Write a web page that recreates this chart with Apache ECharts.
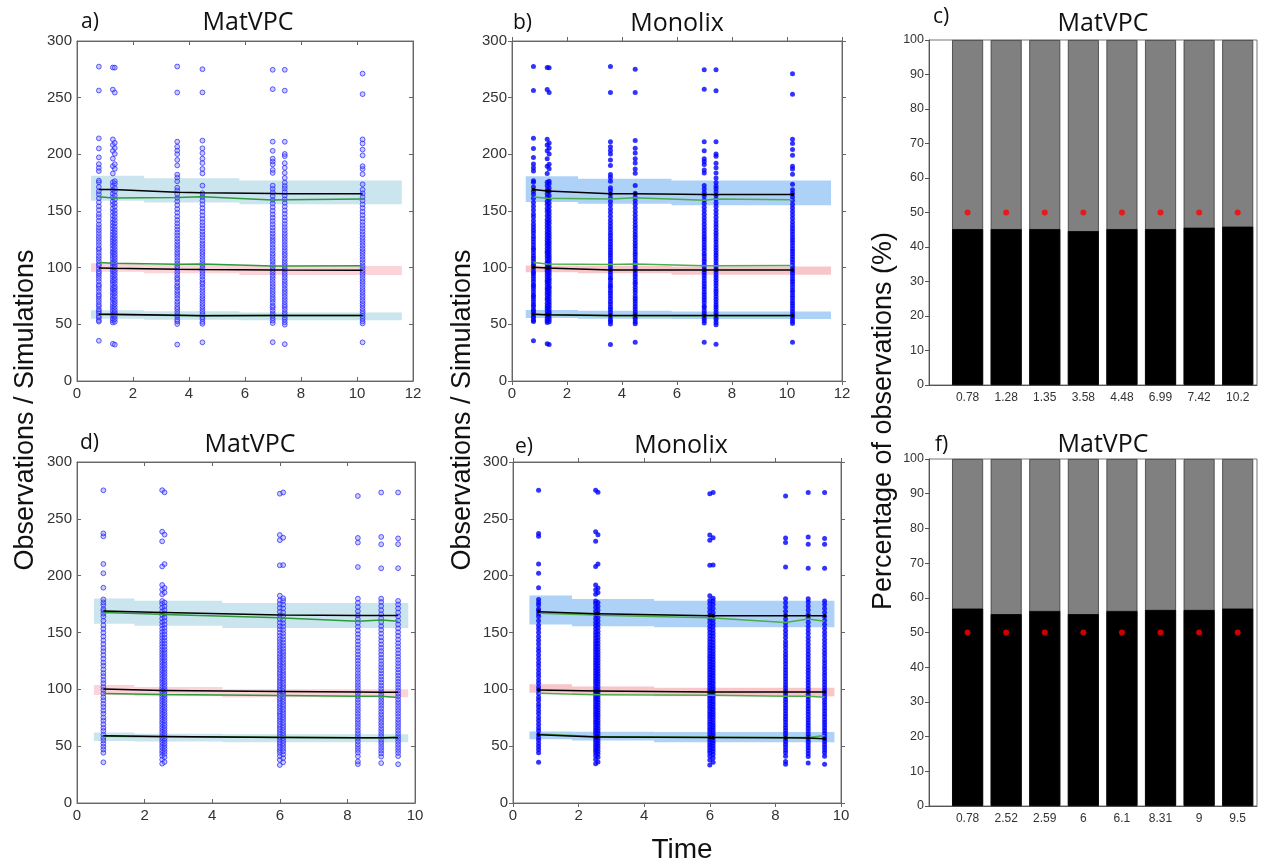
<!DOCTYPE html>
<html><head><meta charset="utf-8">
<script src="https://cdn.jsdelivr.net/npm/echarts@6/dist/echarts.min.js"></script>
<style>html,body{margin:0;padding:0;background:#fff}#c{width:1270px;height:863px}</style>
</head><body><div id="c"></div>
<script>
// ---------- Data set 1 (panels a, b, c) ----------
const timesA = [0.78, 1.28, 1.35, 3.58, 4.48, 6.99, 7.42, 10.2];
const obsA1 = [35.5,52.4,53.6,55.9,57.2,59.8,61.5,63.1,65.7,67.4,69.9,72.3,74.6,76.2,78.8,81.4,83.7,85.1,87.9,90.3,92.6,94.8,96.5,99.1,101.7,103.2,105.9,108.4,110.6,113.2,115.8,117.3,120.1,122.7,125.4,127.8,130.5,133.1,135.6,138.2,141.4,144.7,147.3,150.9,154.2,157.6,161.3,164.8,167.5,171.2,175.3,176.8,185.2,188.1,191.4,197.3,205.2,214.1,256.3,277.4];
const obsA2 = [32.8,51.6,53.4,55.2,57.8,59.3,61.9,64.2,66.1,68.7,71.5,73.2,75.9,78.1,80.6,82.3,84.9,87.4,89.2,91.8,94.1,96.7,98.4,100.9,103.5,105.1,107.8,110.2,112.7,114.4,116.9,119.5,121.8,124.3,126.6,129.2,131.7,134.5,137.1,139.8,142.6,145.9,149.3,152.1,155.7,158.4,162.1,165.3,168.6,172.2,175.4,183.1,189.5,196.2,203.1,208.3,213.2,257.1,276.6];
const obsA3 = [32.1,52.2,54.5,56.8,58.9,60.7,62.8,65.3,67.6,69.8,72.1,74.7,77.2,79.4,81.8,83.5,86.2,88.6,90.7,93.3,95.5,97.8,100.2,102.4,104.6,106.9,109.3,111.5,113.8,116.2,118.6,121.1,123.4,125.9,128.3,130.8,133.4,136.2,139.1,141.9,144.8,147.6,150.5,153.8,156.9,160.2,163.7,167.1,170.4,174.1,176.3,187.2,191.3,200.4,205.6,210.1,254.5,276.5];
const obsA4 = [32.2,50.3,52.6,54.1,56.7,58.3,60.9,63.4,65.2,67.9,70.1,72.8,75.3,77.6,79.9,82.4,84.2,86.8,89.5,91.1,93.7,96.2,98.9,101.3,103.6,106.1,108.7,111.2,113.4,115.9,118.3,120.6,123.2,125.7,128.4,130.9,133.6,136.3,139.2,142.1,145.3,148.6,151.8,155.2,158.5,161.6,164.9,168.1,170.6,176.2,179.5,182.1,190.2,195.1,200.2,203.3,206.7,211.2,254.6,277.5];
const obsA5 = [34.1,50.5,52.2,54.7,56.3,58.9,61.2,63.6,65.8,68.1,70.6,72.9,75.1,77.8,80.2,82.7,85.3,87.1,89.6,92.2,94.5,97.1,99.6,102.2,104.3,106.8,109.5,111.9,114.1,116.6,119.2,121.5,124.1,126.9,129.3,131.9,134.7,137.4,140.2,143.1,146.2,149.4,152.6,155.9,159.1,162.4,165.7,172.4,183.2,187.1,192.3,196.2,201.1,205.3,212.1,254.6,275.1];
const obsA6 = [34.2,51.1,53.3,55.4,57.6,59.7,62.3,64.8,66.5,69.2,71.7,73.9,76.4,78.6,81.1,83.4,85.8,88.3,90.9,93.2,95.7,97.9,100.5,102.8,105.4,107.6,110.3,112.6,115.3,117.7,120.3,122.9,125.2,127.6,130.2,132.8,135.5,138.3,141.2,144.1,147.1,150.2,153.4,156.6,159.8,163.2,166.4,169.5,172.4,183.6,186.2,191.1,193.7,196.2,203.1,211.2,257.5,274.6];
const obsA7 = [32.5,49.7,51.9,54.2,56.1,58.5,60.6,63.1,65.4,67.3,69.7,72.2,74.5,76.9,79.3,81.5,84.1,86.4,88.8,91.3,93.6,96.1,98.6,101.1,103.3,105.8,108.2,110.7,112.9,115.4,117.9,120.2,122.8,125.3,127.9,130.4,133.1,135.8,138.6,141.5,144.4,147.5,150.6,153.9,157.1,160.4,163.6,166.9,169.8,172.1,175.1,179.2,183.6,188.1,192.2,198.4,200.3,211.1,256.2,274.6];
const obsA8 = [34.1,50.8,52.7,54.9,57.1,59.4,61.6,63.9,66.3,68.5,70.9,73.4,75.7,78.2,80.4,82.9,85.5,87.7,90.1,92.7,95.1,97.3,99.8,102.1,104.7,107.2,109.6,112.1,114.5,116.8,119.4,121.9,124.4,126.8,129.5,132.1,134.8,137.5,140.4,143.3,146.4,149.5,152.7,155.8,159.2,162.3,165.6,168.8,173.6,182.5,187.1,189.5,199.1,204.2,209.6,213.2,253.1,271.2];

// prediction-interval bands, panel a
const bandXA     = [0.5, 2.4, 2.4, 5.8, 5.8, 11.6];
const upHiA      = [181, 181, 179, 179, 177, 177];
const upLoA      = [159, 159, 157.5, 157.5, 156, 156];
const medHiA     = [104, 104, 102.5, 102.5, 101.5, 101.5];
const medLoA     = [96.5, 96.5, 95, 95, 93.5, 93.5];
const lowHiA     = [62.5, 62.5, 61.5, 61.5, 60.5, 60.5];
const lowLoA     = [55, 55, 54, 54, 53.5, 53.5];
// percentile lines, panel a
const blackUpA   = [169, 169, 169, 166.5, 166, 165.5, 165.2, 165.2];
const greenUpA   = [162.5, 161.5, 161.8, 162, 162.5, 159.8, 160, 160.5];
const blackMedA  = [99.8, 99.5, 99.3, 98.5, 98.3, 98, 97.9, 97.8];
const greenMedA  = [104.5, 104, 103.8, 103, 103.2, 101.5, 101.5, 101.8];
const blackLoA   = [59, 59, 58.8, 58, 57.5, 57.8, 57.8, 57.8];
const greenLoA   = [58.7, 58.5, 58.5, 57.8, 57.8, 57.8, 57.9, 57.8];

// bands & lines, panel b
const bandXB     = [0.5, 2.4, 2.4, 5.8, 5.8, 11.6];
const upHiB      = [180.7, 180.7, 178.5, 178.5, 177, 177];
const upLoB      = [158, 158, 156.5, 156.5, 155, 155];
const medHiB     = [102, 102, 101.5, 101.5, 101, 101];
const medLoB     = [96, 96, 95, 95, 93.8, 93.8];
const lowHiB     = [62.6, 62.6, 62, 62, 61.4, 61.4];
const lowLoB     = [55.5, 55.5, 55, 55, 54.6, 54.6];
const blackUpB   = [168.9, 167.7, 167.6, 165.3, 165.2, 164.5, 164.5, 164.5];
const greenUpB   = [162.4, 161.2, 161.3, 160.6, 161.8, 159.4, 160.6, 160];
const blackMedB  = [100.4, 99.8, 99.7, 98, 98, 98, 98, 98];
const greenMedB  = [104.5, 103.3, 103.2, 102.7, 103.3, 101.6, 101.6, 102];
const blackLoB   = [59, 58.5, 58.5, 57.9, 57.9, 57.9, 57.9, 57.9];
const greenLoB   = [58.8, 58.2, 58.2, 57.6, 57.6, 57.5, 57.6, 57.6];

// panel c
const barLabelsC = ['0.78','1.28','1.35','3.58','4.48','6.99','7.42','10.2'];
const belowC     = [45.2, 45.2, 45.2, 44.6, 45.2, 45.2, 45.6, 45.9];
const totalC     = [100, 100, 100, 100, 100, 100, 100, 100];
const expectedC  = [50, 50, 50, 50, 50, 50, 50, 50];

// ---------- Data set 2 (panels d, e, f) ----------
const timesD = [0.78, 2.52, 2.59, 6, 6.1, 8.31, 9, 9.5];
const obsD1 = [35.8,44.2,47.1,49.6,52.3,55.1,57.4,60.2,63.5,66.1,69.3,72.4,75.2,78.6,81.3,84.5,87.2,90.4,93.1,96.3,99.5,102.1,105.4,108.2,111.6,114.3,117.5,120.8,123.6,126.9,130.2,133.5,136.4,139.8,143.1,146.5,149.9,153.2,156.4,160.3,164.1,166.6,169.1,170.7,174.2,176.5,179.1,189.4,202.1,210.3,234.6,237.2,275.1];
const obsD2 = [34.6,38.2,41.6,44.1,46.3,48.7,50.9,53.2,55.4,57.6,59.8,62.1,64.3,66.5,68.8,71.1,73.3,75.6,77.9,80.1,82.4,84.6,86.9,89.2,91.4,93.7,95.9,98.2,100.4,102.7,105.1,107.3,109.6,111.9,114.2,116.5,118.7,121.1,123.4,125.7,128.1,130.4,132.8,135.2,137.6,140.1,142.6,145.2,147.8,150.5,153.3,156.2,159.1,162.2,165.4,168.6,171.9,175.3,177.7,183.6,187.7,191.8,208.1,230.2,238.7,275.2];
const obsD3 = [36.1,40.3,43.2,45.6,47.9,50.1,52.4,54.6,56.8,59.1,61.3,63.6,65.8,68.1,70.3,72.6,74.9,77.2,79.4,81.7,84.1,86.3,88.6,90.9,93.2,95.4,97.7,99.9,102.3,104.6,106.8,109.1,111.5,113.8,116.1,118.4,120.8,123.1,125.5,127.9,130.3,132.7,135.1,137.6,140.3,142.9,145.6,148.4,151.2,154.1,157.1,160.2,163.3,166.5,169.8,173.1,176.4,185.1,189.2,210.2,236.1,273.3];
const obsD4 = [33.4,37.9,41.3,44.2,46.5,48.8,51.1,53.3,55.6,57.9,60.1,62.4,64.7,66.9,69.2,71.5,73.8,76.1,78.3,80.6,82.9,85.2,87.5,89.8,92.1,94.3,96.6,98.9,101.2,103.5,105.8,108.1,110.4,112.7,115.1,117.4,119.7,122.1,124.4,126.8,129.2,131.6,134.1,136.5,139.1,141.7,144.3,147.1,149.9,152.8,155.6,158.7,161.8,165.1,168.3,171.6,175.1,178.2,182.4,209.1,231.2,235.8,272.1];
const obsD5 = [35.8,39.6,42.7,45.4,47.7,50.2,52.5,54.8,57.1,59.4,61.6,63.9,66.2,68.4,70.7,73.1,75.4,77.6,79.9,82.2,84.5,86.8,89.1,91.4,93.6,95.9,98.2,100.5,102.8,105.1,107.4,109.7,112.1,114.4,116.7,119.1,121.4,123.8,126.2,128.6,131.1,133.5,136.1,138.6,141.2,143.9,146.6,149.4,152.3,155.2,158.2,161.3,164.5,167.7,171.2,174.6,177.8,180.1,209.3,233.4,273.2];
const obsD6 = [34.2,36.5,41.1,44.3,46.7,49.2,51.6,54.1,56.5,58.9,61.4,63.8,66.3,68.7,71.2,73.6,76.1,78.5,81.1,83.5,86.1,88.6,91.1,93.6,96.2,98.7,101.3,103.8,106.4,109.1,111.7,114.3,117.1,119.7,122.4,125.2,127.9,130.7,133.6,136.5,139.4,142.4,145.5,148.6,151.8,155.1,158.4,161.8,165.2,168.8,172.4,176.1,179.8,207.6,229.1,233.2,270.1];
const obsD7 = [35.1,40.8,43.6,46.1,48.5,51.1,53.5,55.9,58.4,60.8,63.3,65.7,68.2,70.6,73.1,75.5,78.1,80.5,83.1,85.6,88.1,90.6,93.2,95.7,98.3,100.8,103.4,106.1,108.7,111.3,114.1,116.8,119.5,122.2,125.1,127.9,130.8,133.7,136.6,139.6,142.7,145.8,149.1,152.3,155.6,159.1,162.5,166.1,169.7,173.3,176.9,179.8,206.5,227.6,234.1,273.2];
const obsD8 = [34.1,41.2,44.1,46.6,49.1,51.5,53.9,56.4,58.8,61.3,63.7,66.2,68.6,71.1,73.5,76.1,78.6,81.1,83.6,86.2,88.7,91.2,93.8,96.3,98.9,101.5,104.1,106.7,109.4,112.1,114.8,117.6,120.3,123.1,125.9,128.8,131.7,134.7,137.7,140.7,143.8,147.1,150.3,153.6,157.1,160.5,164.1,167.6,171.2,174.7,177.8,206.6,227.7,232.8,273.2];

// bands & lines, panel d
const bandXD     = [0.5, 1.7, 1.7, 4.3, 4.3, 9.8];
const upHiD      = [180, 180, 178, 178, 176, 176];
const upLoD      = [157.8, 157.8, 156, 156, 154, 154];
const medHiD     = [103.8, 103.8, 102, 102, 100, 100];
const medLoD     = [95, 95, 94, 94, 93, 93];
const lowHiD     = [62, 62, 61, 61, 60.4, 60.4];
const lowLoD     = [54.5, 54.5, 54, 54, 53.4, 53.4];
const blackUpD   = [169, 167.5, 167.5, 165.5, 165.3, 165, 165, 165];
const greenUpD   = [167.5, 166, 165.8, 163, 162.8, 160, 161, 160];
const blackMedD  = [100.3, 99, 99, 98, 98, 97.6, 97.5, 97.5];
const greenMedD  = [96.3, 95.5, 95.4, 94.5, 94.5, 94, 94, 92.8];
const blackLoD   = [59.2, 58.5, 58.5, 57.6, 57.6, 57.3, 57.3, 57.3];
const greenLoD   = [58.8, 58.2, 58.2, 57.8, 57.8, 57.3, 57.5, 58];

// bands & lines, panel e
const bandXE     = [0.5, 1.8, 1.8, 4.3, 4.3, 9.8];
const upHiE      = [182.5, 182.5, 179.5, 179.5, 178, 178];
const upLoE      = [157, 157, 155.5, 155.5, 154.7, 154.7];
const medHiE     = [104.4, 104.4, 102.5, 102.5, 101.5, 101.5];
const medLoE     = [97, 97, 95.5, 95.5, 94, 94];
const lowHiE     = [63, 63, 62.7, 62.7, 62.4, 62.4];
const lowLoE     = [56, 56, 55, 55, 53.5, 53.5];
const blackUpE   = [168.2, 166.5, 166.5, 164.7, 164.7, 164.7, 164.7, 164.7];
const greenUpE   = [167, 165.3, 165.2, 163, 162.8, 158.8, 161.8, 160];
const blackMedE  = [99.4, 98.5, 98.5, 97.6, 97.6, 97.6, 97.6, 97.6];
const greenMedE  = [96.5, 95.3, 95.3, 94.7, 94.7, 94, 94, 93];
const blackLoE   = [60, 58, 58, 57.6, 57.6, 57.3, 57.2, 56.5];
const greenLoE   = [60.6, 58.5, 58.4, 57.9, 57.9, 57.7, 57.6, 59.4];

// panel f
const barLabelsF = ['0.78','2.52','2.59','6','6.1','8.31','9','9.5'];
const belowF     = [56.9, 55.3, 56.2, 55.3, 56.2, 56.5, 56.5, 56.9];
const totalF     = [100, 100, 100, 100, 100, 100, 100, 100];
const expectedF  = [50, 50, 50, 50, 50, 50, 50, 50];

// ---------- helpers ----------
const NUMFONT = '"Liberation Sans", Arial, sans-serif';
function obsPoints(times, cols) {
  const out = [];
  times.forEach((t, i) => cols[i].forEach(v => out.push([t, v])));
  return out;
}
function zip(xs, ys) { return xs.map((x, i) => [x, ys[i]]); }
function band(axisIdx, xs, lo, hi, color) {
  return {
    type: 'custom', xAxisIndex: axisIdx, yAxisIndex: axisIdx, z: 1, silent: true,
    clip: true,
    data: [[xs[0], lo[0]]],
    renderItem: (params, api) => {
      const pts = [];
      for (let i = 0; i < xs.length; i++) pts.push(api.coord([xs[i], hi[i]]));
      for (let i = xs.length - 1; i >= 0; i--) pts.push(api.coord([xs[i], lo[i]]));
      return { type: 'polygon', shape: { points: pts }, style: { fill: color } };
    }
  };
}
function line(axisIdx, xs, ys, color, withMarks) {
  return {
    type: 'line', xAxisIndex: axisIdx, yAxisIndex: axisIdx, z: 4, silent: true,
    data: zip(xs, ys),
    symbol: withMarks ? 'circle' : 'none', symbolSize: 3.5, showSymbol: !!withMarks,
    itemStyle: { color: color },
    lineStyle: { color: color, width: 1.5 }
  };
}
function scatter(axisIdx, pts, hollow) {
  return {
    type: 'scatter', xAxisIndex: axisIdx, yAxisIndex: axisIdx, z: 2, silent: true,
    data: pts, symbol: 'circle', symbolSize: hollow ? 4.8 : 5,
    itemStyle: hollow
      ? { color: 'rgba(110,110,255,0.45)', borderColor: 'rgba(35,35,255,0.9)', borderWidth: 1 }
      : { color: '#0000ff' }
  };
}

const grids = [
  { left: 77,  top: 41,  width: 336, height: 340 },  // a
  { left: 512, top: 41,  width: 330, height: 340 },  // b
  { left: 929, top: 40,  width: 328, height: 345 },  // c
  { left: 77,  top: 462, width: 338, height: 341 },  // d
  { left: 513, top: 462, width: 328, height: 341 },  // e
  { left: 929, top: 459, width: 328, height: 347 }   // f
].map(g => Object.assign({ show: true, borderColor: '#777', borderWidth: 1, backgroundColor: '#fff' }, g));

function sAxisX(gi, max, inside, pos) {
  const main = pos === 'bottom';
  return {
    type: 'value', gridIndex: gi, position: pos, min: 0, max: max, interval: 2,
    axisLine: { show: true, onZero: false, lineStyle: { color: '#666', width: 1 } },
    axisTick: { show: true, inside: inside, length: 4, lineStyle: { color: '#666' } },
    axisLabel: { show: main, color: '#333', fontSize: 15, fontFamily: NUMFONT, margin: 5 },
    splitLine: { show: false }
  };
}
function sAxisY(gi, inside, pos) {
  const main = pos === 'left';
  return {
    type: 'value', gridIndex: gi, position: pos, min: 0, max: 300, interval: 50,
    axisLine: { show: true, onZero: false, lineStyle: { color: '#666', width: 1 } },
    axisTick: { show: true, inside: inside, length: 4, lineStyle: { color: '#666' } },
    axisLabel: { show: main, color: '#333', fontSize: 15, fontFamily: NUMFONT, margin: 5 },
    splitLine: { show: false }
  };
}
function bAxisX(gi, labels) {
  return {
    type: 'value', gridIndex: gi, min: 0, max: 8.5, interval: 1,
    axisLine: { show: true, onZero: false, lineStyle: { color: '#555' } },
    axisTick: { show: false },
    axisLabel: {
      color: '#333', fontSize: 12, fontFamily: NUMFONT, margin: 7, showMaxLabel: false,
      formatter: v => (Number.isInteger(v) && v >= 1 && v <= labels.length) ? labels[v - 1] : ''
    },
    splitLine: { show: false }
  };
}
function bAxisY(gi) {
  return {
    type: 'value', gridIndex: gi, min: 0, max: 100, interval: 10,
    axisLine: { show: true, onZero: false, lineStyle: { color: '#555' } },
    axisTick: { show: true, inside: false, length: 4, lineStyle: { color: '#555' } },
    axisLabel: { color: '#333', fontSize: 12.5, fontFamily: NUMFONT, margin: 5 },
    splitLine: { show: false }
  };
}

const xAxes = [
  sAxisX(0, 12, true, 'bottom'), sAxisX(1, 12, false, 'bottom'), bAxisX(2, barLabelsC),
  sAxisX(3, 10, true, 'bottom'), sAxisX(4, 10, false, 'bottom'), bAxisX(5, barLabelsF),
  sAxisX(0, 12, true, 'top'), sAxisX(1, 12, false, 'top'), sAxisX(3, 10, true, 'top'), sAxisX(4, 10, false, 'top')
];
const yAxes = [
  sAxisY(0, true, 'left'), sAxisY(1, false, 'left'), bAxisY(2),
  sAxisY(3, true, 'left'), sAxisY(4, false, 'left'), bAxisY(5),
  sAxisY(0, true, 'right'), sAxisY(1, false, 'right'), sAxisY(3, true, 'right'), sAxisY(4, false, 'right')
];

const obsA = obsPoints(timesA, [obsA1, obsA2, obsA3, obsA4, obsA5, obsA6, obsA7, obsA8]);
const obsD = obsPoints(timesD, [obsD1, obsD2, obsD3, obsD4, obsD5, obsD6, obsD7, obsD8]);

const lightBlue = '#cae5ee', lightPink = '#fbd3d8';
const midBlue = '#aed2f7', midPink = '#f8c6c9';
const green1 = '#2f9a3c', green2 = '#4cad4f';

function barSeries(gi, below, total, expected) {
  const pos = below.map((v, i) => i + 1);
  return [
    { type: 'bar', xAxisIndex: gi, yAxisIndex: gi, silent: true, barWidth: 31, barGap: '-100%', z: 2,
      data: zip(pos, total), itemStyle: { color: '#808080', borderColor: '#3a3a3a', borderWidth: 0.8 } },
    { type: 'bar', xAxisIndex: gi, yAxisIndex: gi, silent: true, barWidth: 31, barGap: '-100%', z: 3,
      data: zip(pos, below), itemStyle: { color: '#000', borderColor: '#000', borderWidth: 0.8 } },
    { type: 'scatter', xAxisIndex: gi, yAxisIndex: gi, silent: true, z: 5, symbolSize: 6,
      data: zip(pos, expected), itemStyle: { color: '#ff0000' } }
  ];
}

const series = [
  // a
  band(0, bandXA, upLoA, upHiA, lightBlue), band(0, bandXA, medLoA, medHiA, lightPink), band(0, bandXA, lowLoA, lowHiA, lightBlue),
  scatter(0, obsA, true),
  line(0, timesA, greenUpA, green1), line(0, timesA, blackUpA, '#000'),
  line(0, timesA, greenMedA, green1), line(0, timesA, blackMedA, '#000'),
  line(0, timesA, greenLoA, green1), line(0, timesA, blackLoA, '#000'),
  // b
  band(1, bandXB, upLoB, upHiB, midBlue), band(1, bandXB, medLoB, medHiB, midPink), band(1, bandXB, lowLoB, lowHiB, midBlue),
  scatter(1, obsA, false),
  line(1, timesA, greenUpB, green2), line(1, timesA, blackUpB, '#000', true),
  line(1, timesA, greenMedB, green2), line(1, timesA, blackMedB, '#000', true),
  line(1, timesA, greenLoB, green2), line(1, timesA, blackLoB, '#000', true),
  // c
  ...barSeries(2, belowC, totalC, expectedC),
  // d
  band(3, bandXD, upLoD, upHiD, lightBlue), band(3, bandXD, medLoD, medHiD, lightPink), band(3, bandXD, lowLoD, lowHiD, lightBlue),
  scatter(3, obsD, true),
  line(3, timesD, greenUpD, green1), line(3, timesD, blackUpD, '#000'),
  line(3, timesD, greenMedD, green1), line(3, timesD, blackMedD, '#000'),
  line(3, timesD, greenLoD, green1), line(3, timesD, blackLoD, '#000'),
  // e
  band(4, bandXE, upLoE, upHiE, midBlue), band(4, bandXE, medLoE, medHiE, midPink), band(4, bandXE, lowLoE, lowHiE, midBlue),
  scatter(4, obsD, false),
  line(4, timesD, greenUpE, green2), line(4, timesD, blackUpE, '#000', true),
  line(4, timesD, greenMedE, green2), line(4, timesD, blackMedE, '#000', true),
  line(4, timesD, greenLoE, green2), line(4, timesD, blackLoE, '#000', true),
  // f
  ...barSeries(5, belowF, totalF, expectedF)
];

const TFONT = '"Open Sans", "Noto Sans", sans-serif';
function txt(text, x, y, size, align, rot, family) {
  return {
    type: 'text', x: x, y: y, rotation: rot || 0, silent: true,
    style: { text: text, font: size + 'px ' + (family || TFONT), fill: '#111',
             align: align, verticalAlign: 'middle', textAlign: align, textVerticalAlign: 'middle' }
  };
}
const graphics = [
  txt('a)', 81, 22, 21, 'left'), txt('MatVPC', 248, 23, 25, 'center'),
  txt('b)', 513, 23, 21, 'left'), txt('Monolix', 677, 24, 25, 'center'),
  txt('c)', 933, 17, 21, 'left'), txt('MatVPC', 1103, 24, 25, 'center'),
  txt('d)', 80, 443, 21, 'left'), txt('MatVPC', 250, 445, 25, 'center'),
  txt('e)', 515, 447, 21, 'left'), txt('Monolix', 681, 446, 25, 'center'),
  txt('f)', 935, 445, 21, 'left'), txt('MatVPC', 1103, 445, 25, 'center'),
  txt('Observations / Simulations', 26, 410, 27, 'center', Math.PI / 2, NUMFONT),
  txt('Observations / Simulations', 463, 410, 27, 'center', Math.PI / 2, NUMFONT),
  txt('Percentage of observations (%)', 884, 421, 27, 'center', Math.PI / 2, NUMFONT),
  txt('Time', 682, 850, 28, 'center', 0, NUMFONT)
];

const chart = echarts.init(document.getElementById('c'), null, { renderer: 'canvas' });
chart.setOption({
  animation: false,
  backgroundColor: '#fff',
  grid: grids,
  xAxis: xAxes,
  yAxis: yAxes,
  series: series,
  graphic: graphics
});
</script>
</body></html>
